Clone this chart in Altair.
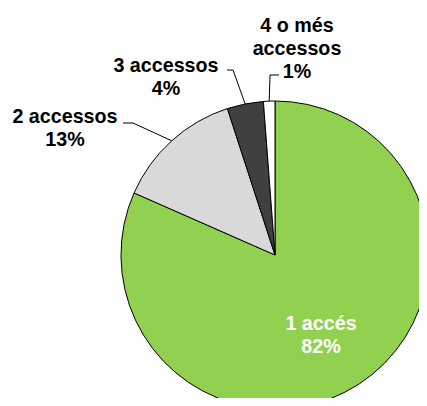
import altair as alt
import pandas as pd
import numpy as np

# ---- data ----
categories = ["1 accés", "2 accessos", "3 accessos", "4 o més accessos"]
values = [81.6, 13.4, 3.8, 1.2]
pct_labels = ["82%", "13%", "4%", "1%"]
label_lines = ["1 accés", "2 accessos", "3 accessos", "4 o més\naccessos"]
colors = ["#92D050", "#D9D9D9", "#404040", "#FFFFFF"]

# ---- layout (pixels, chart coordinates) ----
W, H = 411, 390
CX, CY, R = 267, 247, 154
FONT = "Liberation Sans"
FS = 19.7
LH = 23
# text anchor (center x, first-line baseline y) per category
text_pos = {
    "1 accés": (313, 322),
    "2 accessos": (57, 115),
    "3 accessos": (158, 64),
    "4 o més accessos": (289, 24),
}
# leader lines: start point and elbow point (the end is on the pie edge)
leader_pts = {
    "2 accessos": [(115, 115), (125, 115)],
    "3 accessos": [(219, 62), (225, 62)],
    "4 o més accessos": [(271, 67), (262, 67)],
}

df = pd.DataFrame({
    "category": categories,
    "value": values,
    "idx": list(range(len(categories))),
})

# mid-angle of each slice (clockwise from 12 o'clock)
total = float(sum(values))
cum = np.cumsum([0.0] + values[:-1])
mid = (cum + np.array(values) / 2.0) / total * 2 * np.pi
edge = {c: (CX + R * np.sin(a), CY - R * np.cos(a)) for c, a in zip(categories, mid)}

rows = []
for c, pts in leader_pts.items():
    seq = pts + [edge[c]]
    for i, (px, py) in enumerate(seq):
        rows.append({"lab": c, "seq": i, "x": px, "y": py})
lead_df = pd.DataFrame(rows)

txt_rows = []
for c, lines, p in zip(categories, label_lines, pct_labels):
    x, y = text_pos[c]
    txt_rows.append({"cat": c, "text": lines + "\n" + p, "x": x, "y": y,
                     "white": c == "1 accés"})
txt_df = pd.DataFrame(txt_rows)

pie = alt.Chart(df).mark_arc(
    radius=R, x=CX, y=CY, stroke="black", strokeWidth=1
).encode(
    theta=alt.Theta("value:Q", stack=True),
    color=alt.Color("category:N",
                    scale=alt.Scale(domain=categories, range=colors),
                    legend=None),
    order=alt.Order("idx:Q"),
)

leaders = alt.Chart(lead_df).mark_line(color="black", strokeWidth=1).encode(
    x=alt.X("x:Q", scale=None, axis=None),
    y=alt.Y("y:Q", scale=None, axis=None),
    detail="lab:N",
    order="seq:Q",
)

def text_layer(white):
    return alt.Chart(txt_df[txt_df["white"] == white]).mark_text(
        align="center", baseline="alphabetic", lineBreak="\n",
        font=FONT, fontSize=FS, fontWeight="bold", lineHeight=LH,
        color="white" if white else "black",
    ).encode(
        x=alt.X("x:Q", scale=None, axis=None),
        y=alt.Y("y:Q", scale=None, axis=None),
        text="text:N",
    )

chart = alt.layer(pie, leaders, text_layer(False), text_layer(True)).properties(
    width=W, height=H, autosize="none", padding=0, background="white"
).configure_view(stroke=None)

chart.save("out.html", embed_options={"renderer": "svg", "actions": False})
